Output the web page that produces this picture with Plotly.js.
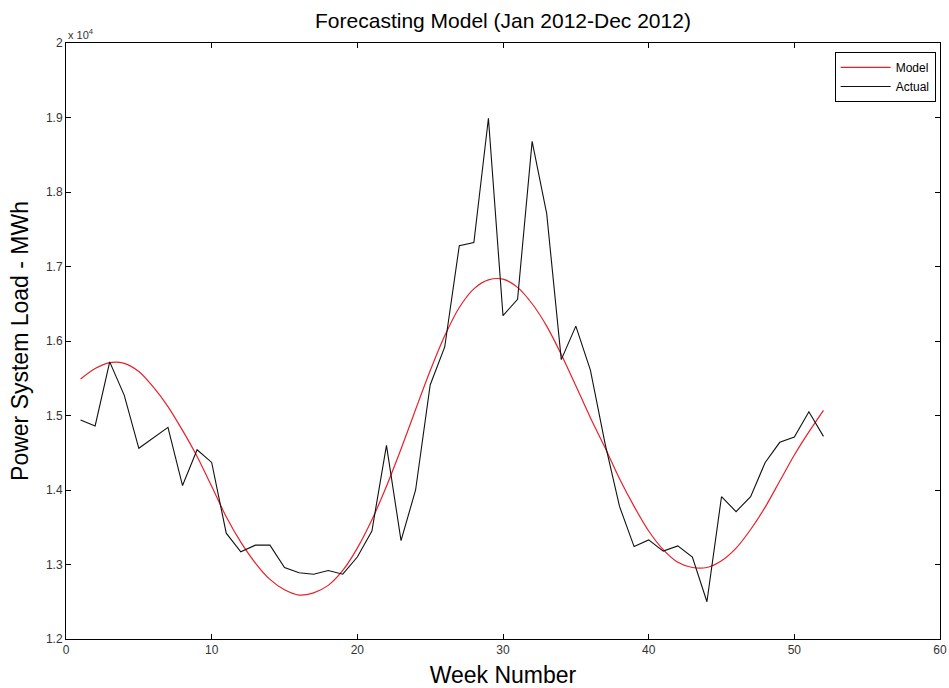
<!DOCTYPE html>
<html>
<head>
<meta charset="utf-8">
<script src="https://cdn.plot.ly/plotly-3.0.1.min.js"></script>
<style>html,body{margin:0;padding:0;background:#fff;}#chart{width:949px;height:688px;}</style>
</head>
<body>
<div id="chart"></div>
<script>
const weeks = [1,2,3,4,5,6,7,8,9,10,11,12,13,14,15,16,17,18,19,20,21,22,23,24,25,26,27,28,29,30,31,32,33,34,35,36,37,38,39,40,41,42,43,44,45,46,47,48,49,50,51,52];
const modelLoad = [15490,15630,15710,15700,15590,15380,15120,14800,14450,14050,13640,13300,13020,12800,12660,12590,12620,12720,12920,13220,13600,14050,14550,15080,15600,16070,16450,16700,16820,16830,16720,16500,16200,15820,15400,14970,14570,14150,13780,13450,13200,13030,12960,12960,13050,13220,13470,13770,14120,14470,14780,15070];
const actualLoad = [14940,14860,15720,15270,14560,14700,14840,14060,14540,14370,13420,13170,13260,13260,12960,12890,12870,12920,12870,13100,13450,14600,13320,14000,15410,15920,17280,17320,18990,16340,16560,18680,17710,15750,16200,15610,14630,13780,13240,13330,13180,13250,13100,12500,13910,13710,13910,14370,14640,14710,15050,14720];
const yTickVals = [12000,13000,14000,15000,16000,17000,18000,19000,20000];
const yTickText = ['1.2','1.3','1.4','1.5','1.6','1.7','1.8','1.9','2'];
const xTickVals = [0,10,20,30,40,50,60];

const traces = [
  {x: weeks, y: modelLoad, name: 'Model', type: 'scatter', mode: 'lines', line: {color: '#e8202a', width: 1.2, shape: 'spline', smoothing: 0.8}},
  {x: weeks, y: actualLoad, name: 'Actual', type: 'scatter', mode: 'lines', line: {color: '#111111', width: 1.1}}
];

const axisFont = {family: 'Liberation Sans, Arial, sans-serif', size: 12, color: '#333'};
const layout = {
  width: 949, height: 688,
  margin: {l: 66, r: 9, t: 43, b: 49},
  paper_bgcolor: '#fff', plot_bgcolor: '#fff',
  font: {family: 'Liberation Sans, Arial, sans-serif', color: '#000'},
  title: {text: 'Forecasting Model (Jan 2012-Dec 2012)', font: {size: 21, color: '#000'}, x: 0.53, xanchor: 'center', y: 0.97, yanchor: 'middle'},
  xaxis: {
    range: [0, 60], tickvals: xTickVals, ticks: 'inside', ticklen: 5, tickcolor: '#000',
    showline: true, linecolor: '#000', linewidth: 1, mirror: 'ticks', showgrid: false, zeroline: false,
    tickfont: axisFont, title: {text: 'Week Number', font: {size: 23, color: '#000'}, standoff: 10}
  },
  yaxis: {
    range: [12000, 20000], tickvals: yTickVals, ticktext: yTickText, ticks: 'inside', ticklen: 5, tickcolor: '#000',
    showline: true, linecolor: '#000', linewidth: 1, mirror: 'ticks', showgrid: false, zeroline: false,
    tickfont: axisFont, title: {text: 'Power System Load - MWh', font: {size: 23, color: '#000'}, standoff: 10}
  },
  showlegend: true,
  legend: {x: 0.995, y: 0.985, xanchor: 'right', yanchor: 'top', bgcolor: '#fff', bordercolor: '#000', borderwidth: 1,
    font: {size: 12, color: '#000'}, tracegroupgap: 0, itemwidth: 50},
  annotations: [
    {text: 'x 10<sup>4</sup>', xref: 'paper', yref: 'paper', x: 0, y: 1, xanchor: 'left', yanchor: 'bottom', showarrow: false,
     font: {size: 11, color: '#333'}}
  ]
};
Plotly.newPlot('chart', traces, layout, {displayModeBar: false, staticPlot: true});
</script>
</body>
</html>
